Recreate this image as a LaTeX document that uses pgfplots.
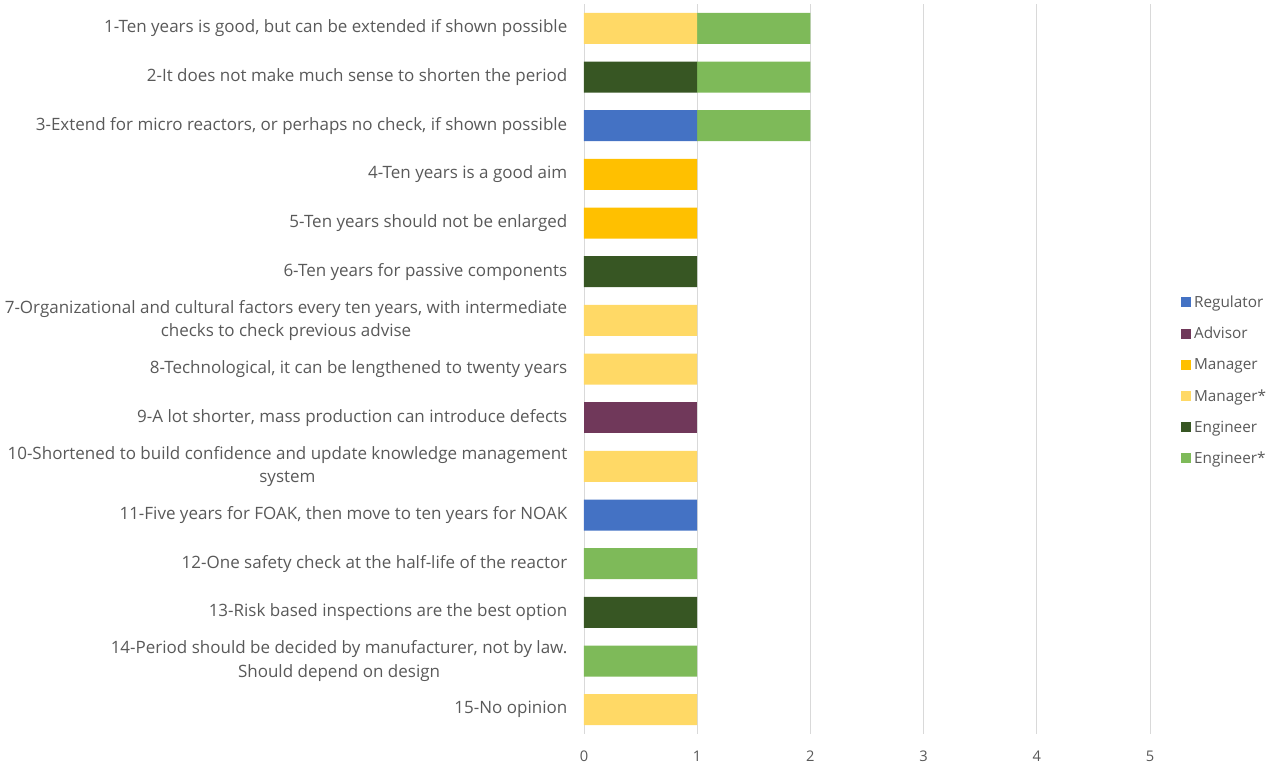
\documentclass[border=0pt]{standalone}
\usepackage{pgfplots}
\pgfplotsset{compat=1.18}
\usepackage{fontspec}
\setmainfont{Open Sans}
\definecolor{creg}{HTML}{4472C4}
\definecolor{cadv}{HTML}{70385A}
\definecolor{cman}{HTML}{FFC000}
\definecolor{cmans}{HTML}{FFD966}
\definecolor{ceng}{HTML}{375623}
\definecolor{cengs}{HTML}{7EBA59}
\definecolor{ctxt}{HTML}{595959}
\begin{document}
\begin{tikzpicture}
\path[use as bounding box] (-438pt,-22.5pt) rectangle (516pt,550.5pt);
\begin{axis}[
  at={(0,0)}, anchor=south west,
  scale only axis, width=424.5pt, height=547.5pt,
  xbar stacked, bar width=23.25pt,
  xmin=0, xmax=5, ymin=0.5, ymax=15.5, y dir=reverse,
  xtick={0,1,2,3,4,5},
  ytick={1,...,15},
  yticklabels={
    {1-Ten years is good, but can be extended if shown possible},
    {2-It does not make much sense to shorten the period},
    {3-Extend for micro reactors, or perhaps no check, if shown possible},
    {4-Ten years is a good aim},
    {5-Ten years should not be enlarged},
    {6-Ten years for passive components},
    {7-Organizational and cultural factors every ten years, with intermediate\\checks to check previous advise},
    {8-Technological, it can be lengthened to twenty years},
    {9-A lot shorter, mass production can introduce defects},
    {10-Shortened to build confidence and update knowledge management\\system},
    {11-Five years for FOAK, then move to ten years for NOAK},
    {12-One safety check at the half-life of the reactor},
    {13-Risk based inspections are the best option},
    {14-Period should be decided by manufacturer, not by law.\\Should depend on design},
    {15-No opinion}},
  yticklabel style={align=center, font=\fontsize{12.75pt}{17.5pt}\selectfont, text=ctxt, xshift=-9pt},
  xticklabel style={font=\fontsize{11pt}{13pt}\selectfont, text=ctxt, yshift=-9pt},
  /pgf/number format/assume math mode=true,
  major tick length=0pt,
  axis line style={draw=none},
  xmajorgrids, major grid style={draw=black!15, line width=0.6pt},
  legend style={draw=none, at={(1.048,0.484)}, anchor=west, font=\fontsize{11.5pt}{13pt}\selectfont, text=ctxt, row sep=9.3pt, legend cell align=left},
  legend image code/.code={\fill[#1] (0pt,-3.5pt) rectangle (7.5pt,4pt);},
]
\addplot[fill=creg, draw=none] coordinates {(0,1) (0,2) (1,3) (0,4) (0,5) (0,6) (0,7) (0,8) (0,9) (0,10) (1,11) (0,12) (0,13) (0,14) (0,15)};
\addplot[fill=cadv, draw=none] coordinates {(0,1) (0,2) (0,3) (0,4) (0,5) (0,6) (0,7) (0,8) (1,9) (0,10) (0,11) (0,12) (0,13) (0,14) (0,15)};
\addplot[fill=cman, draw=none] coordinates {(0,1) (0,2) (0,3) (1,4) (1,5) (0,6) (0,7) (0,8) (0,9) (0,10) (0,11) (0,12) (0,13) (0,14) (0,15)};
\addplot[fill=cmans, draw=none] coordinates {(1,1) (0,2) (0,3) (0,4) (0,5) (0,6) (1,7) (1,8) (0,9) (1,10) (0,11) (0,12) (0,13) (0,14) (1,15)};
\addplot[fill=ceng, draw=none] coordinates {(0,1) (1,2) (0,3) (0,4) (0,5) (1,6) (0,7) (0,8) (0,9) (0,10) (0,11) (0,12) (1,13) (0,14) (0,15)};
\addplot[fill=cengs, draw=none] coordinates {(1,1) (1,2) (1,3) (0,4) (0,5) (0,6) (0,7) (0,8) (0,9) (0,10) (0,11) (1,12) (0,13) (1,14) (0,15)};
\legend{Regulator, Advisor, Manager, Manager*, Engineer, Engineer*}
\end{axis}
\end{tikzpicture}
\end{document}
